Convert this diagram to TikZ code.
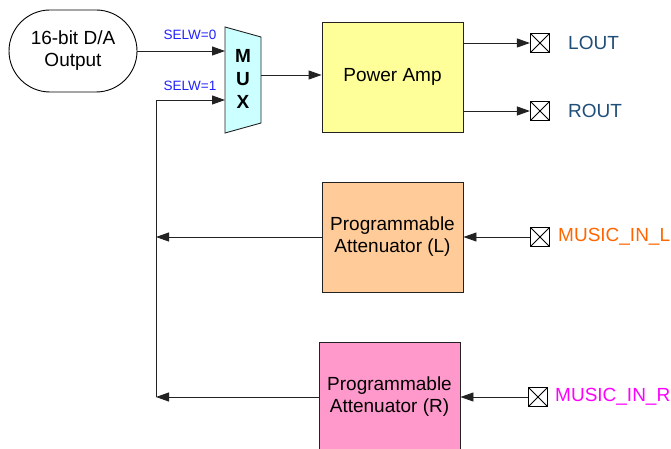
\documentclass[tikz,border=0pt]{standalone}
\usepackage{fontspec}
\setmainfont{Liberation Sans}
\usetikzlibrary{arrows.meta,shapes.misc}
\definecolor{muxfill}{HTML}{CCFFFF}
\definecolor{pafill}{HTML}{FFFF99}
\definecolor{alfill}{HTML}{FFCC99}
\definecolor{arfill}{HTML}{FF99CC}
\definecolor{selblue}{HTML}{2020FF}
\definecolor{outblue}{HTML}{1F4E79}
\definecolor{inorange}{HTML}{FF6600}
\definecolor{inmag}{HTML}{FF00FF}
\definecolor{linec}{HTML}{222222}
\tikzset{
  big/.style={font=\fontsize{19}{22}\selectfont},
  blockbox/.style={draw=linec, line width=0.9pt, big, align=center, minimum width=141pt, minimum height=110pt, inner sep=0pt},
  arr/.style={draw=linec, line width=0.9pt, -{Triangle[length=13pt,width=9pt]}},
  term/.style={draw=black, line width=1.2pt, minimum width=19pt, minimum height=19pt, inner sep=0pt,
    path picture={\draw[line width=0.9pt] (path picture bounding box.north west) -- (path picture bounding box.south east)
      (path picture bounding box.north east) -- (path picture bounding box.south west);}},
  sellab/.style={font=\fontsize{13.5}{15}\selectfont, text=selblue, inner sep=0pt},
  portlab/.style={big, anchor=west, inner sep=0pt},
  muxlet/.style={font=\fontsize{19}{22}\selectfont\bfseries, inner sep=0pt}
}
\begin{document}
\begin{tikzpicture}[x=1pt,y=-1pt]
\useasboundingbox (0,0) rectangle (671,449);

% D/A source
\node[rounded rectangle, draw=black, line width=0.9pt, minimum width=128pt, minimum height=82pt, inner sep=0pt, big, align=center] (da) at (73,51) {16-bit D/A\\Output};

% MUX
\draw[draw=linec, line width=0.9pt, fill=muxfill] (225,27) -- (261,37) -- (261,123) -- (225,133) -- cycle;
\coordinate (mux0) at (225,51);
\coordinate (mux1) at (225,100);
\coordinate (muxo) at (261,75);
\node[muxlet] (mm) at (243,56) {M};
\node[muxlet] (mu) at (243,79) {U};
\node[muxlet] (mx) at (243,102) {X};
\node[sellab] (s0) at (190,35) {SELW=0};
\node[sellab] (s1) at (190,86) {SELW=1};

% blocks
\node[blockbox, fill=pafill] (pa) at (392.5,77) {Power Amp};
\node[blockbox, fill=alfill] (al) at (392.5,237) {Programmable\\Attenuator (L)};
\node[blockbox, fill=arfill] (ar) at (389.5,397) {Programmable\\Attenuator (R)};

% terminals
\node[term] (lt) at (540,43) {};
\node[term] (rt) at (540,111) {};
\node[term] (mil) at (540,237) {};
\node[term] (mir) at (538,397) {};
\node[portlab, text=outblue] (ltl) at (568,43) {LOUT};
\node[portlab, text=outblue] (rtl) at (568,111) {ROUT};
\node[portlab, text=inorange] (mill) at (558,237) {MUSIC\_IN\_L};
\node[portlab, text=inmag] (mirl) at (555,397) {MUSIC\_IN\_R};

% bus
\coordinate (vt) at (156,100);
\coordinate (vm) at (156,237);
\coordinate (vb) at (156,397);

% connectors
\draw[arr] (da.east) -- (mux0);
\draw[arr] (vb) -- (vt) -- (mux1);
\draw[arr] (muxo) -- (pa.west |- muxo);
\draw[arr] (pa.east |- lt) -- (lt.west);
\draw[arr] (pa.east |- rt) -- (rt.west);
\draw[arr] (mil.west) -- (al.east |- mil);
\draw[arr] (mir.west) -- (ar.east |- mir);
\draw[arr] (al.west) -- (vm);
\draw[arr] (ar.west) -- (vb);
\end{tikzpicture}
\end{document}
